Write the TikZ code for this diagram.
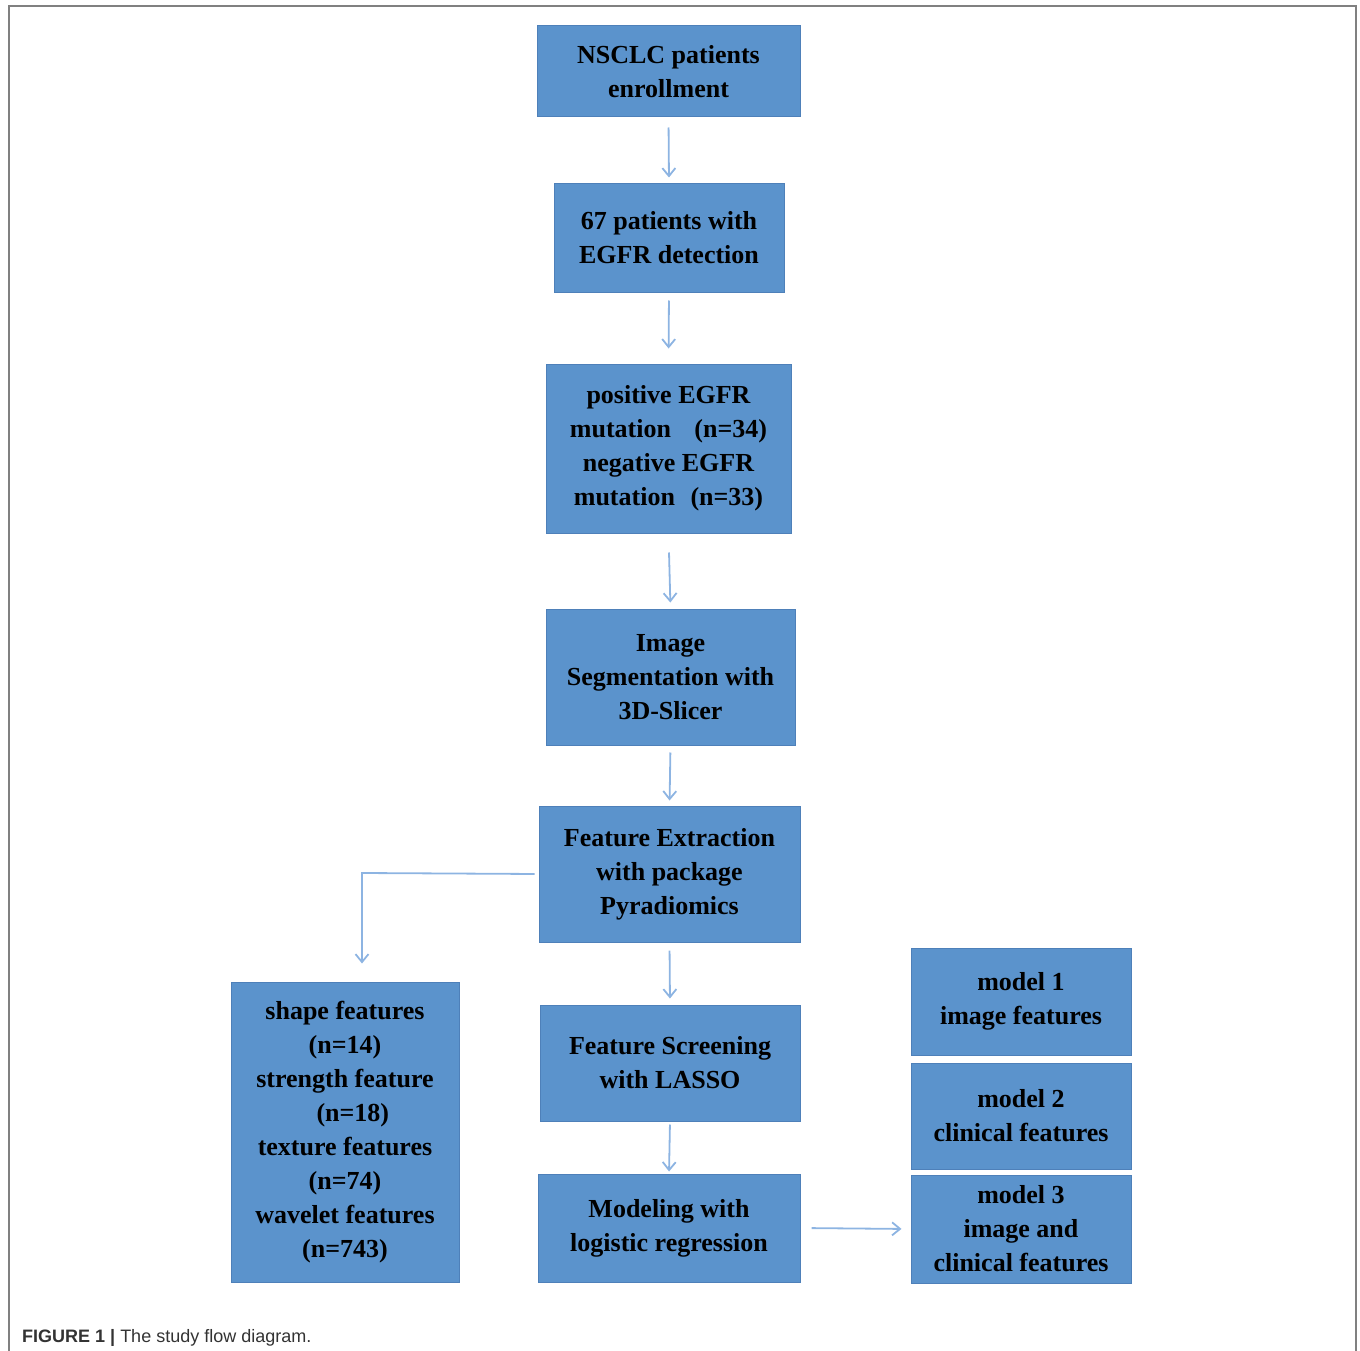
\documentclass[tikz,border=0pt]{standalone}
\usepackage{fontspec}
\setmainfont{Liberation Serif}
\newfontfamily\capfont{Liberation Sans}
\usetikzlibrary{arrows.meta}
\definecolor{boxfill}{RGB}{91,147,204}
\definecolor{boxedge}{RGB}{78,128,185}
\definecolor{arrcol}{RGB}{141,180,226}
\definecolor{framecol}{RGB}{128,128,128}
\definecolor{capcol}{RGB}{51,51,51}
\tikzset{
  flowbox/.style={draw=boxedge, line width=1pt, fill=boxfill, align=center,
    inner sep=0pt, font=\fontsize{26}{34}\selectfont\bfseries},
  arr/.style={draw=arrcol, line width=1.8pt,
    -{Straight Barb[length=8pt,width=13pt,line width=1.8pt]}},
  frameline/.style={draw=framecol, line width=2pt}
}
\begin{document}
\begin{tikzpicture}[x=1pt,y=-1pt]
\useasboundingbox (0,0) rectangle (1360,1351);
% frame
\draw[frameline] (8.5,1351) -- (8.5,6.5) -- (1355.5,6.5) -- (1355.5,1351);
% boxes
\node[flowbox, minimum width=263pt, minimum height=91pt] (b1) at (668.5,71.5) {NSCLC patients\\enrollment};
\node[flowbox, minimum width=230pt, minimum height=108pt] (b2) at (669,238) {67 patients with\\EGFR detection};
\node[flowbox, minimum width=245pt, minimum height=169pt] (b3) at (668.5,448.5) {positive EGFR\\mutation\hspace*{0.9em}(n=34)\\negative EGFR\\mutation\hspace*{0.6em}(n=33)};
\node[flowbox, minimum width=249pt, minimum height=136pt] (b4) at (670.5,677) {Image\\Segmentation with\\3D-Slicer};
\node[flowbox, minimum width=261pt, minimum height=136pt] (b5) at (669.5,874) {Feature Extraction\\with package\\Pyradiomics};
\node[flowbox, minimum width=228pt, minimum height=300pt] (b6) at (345,1132) {shape features\\(n=14)\\strength feature\\\hspace*{0.6em}(n=18)\\texture features\\(n=74)\\wavelet features\\(n=743)};
\node[flowbox, minimum width=260pt, minimum height=116pt] (b7) at (670,1063) {Feature Screening\\with LASSO};
\node[flowbox, minimum width=262pt, minimum height=108pt] (b8) at (669,1228) {Modeling with\\logistic regression};
\node[flowbox, minimum width=220pt, minimum height=107pt] (b9) at (1021,1001.5) {model 1\\image features};
\node[flowbox, minimum width=220pt, minimum height=106pt] (b10) at (1021,1116) {model 2\\clinical features};
\node[flowbox, minimum width=220pt, minimum height=108pt] (b11) at (1021,1229) {model 3\\image and\\clinical features};
% connectors
\draw[arr, shorten <=10pt, shorten >=6pt] (b1.south) -- (b2.north);
\draw[arr, shorten <=8pt, shorten >=15pt] (b2.south) -- (b3.north);
\draw[arr, shorten <=19pt, shorten >=6pt] (b3.south) -- (b4.north);
\draw[arr, shorten <=7pt, shorten >=5pt] (b4.south) -- (b5.north);
\coordinate (c1) at (362,873);
\draw[arr, shorten <=4pt, shorten >=18pt] (b5.west) -- (c1) -- (c1 |- b6.north);
\draw[arr, shorten <=8pt, shorten >=6pt] (b5.south) -- (b7.north);
\draw[arr, shorten <=3pt, shorten >=2pt] (b7.south) -- (b8.north);
\draw[arr, shorten <=11pt, shorten >=9pt] (b8.east) -- (b11.west);
% caption
\node[anchor=base west, inner sep=0pt, text=capcol, font=\capfont\fontsize{18}{22}\selectfont] (cap) at (22,1342) {\textbf{FIGURE 1 |} The study flow diagram.};
\end{tikzpicture}
\end{document}
